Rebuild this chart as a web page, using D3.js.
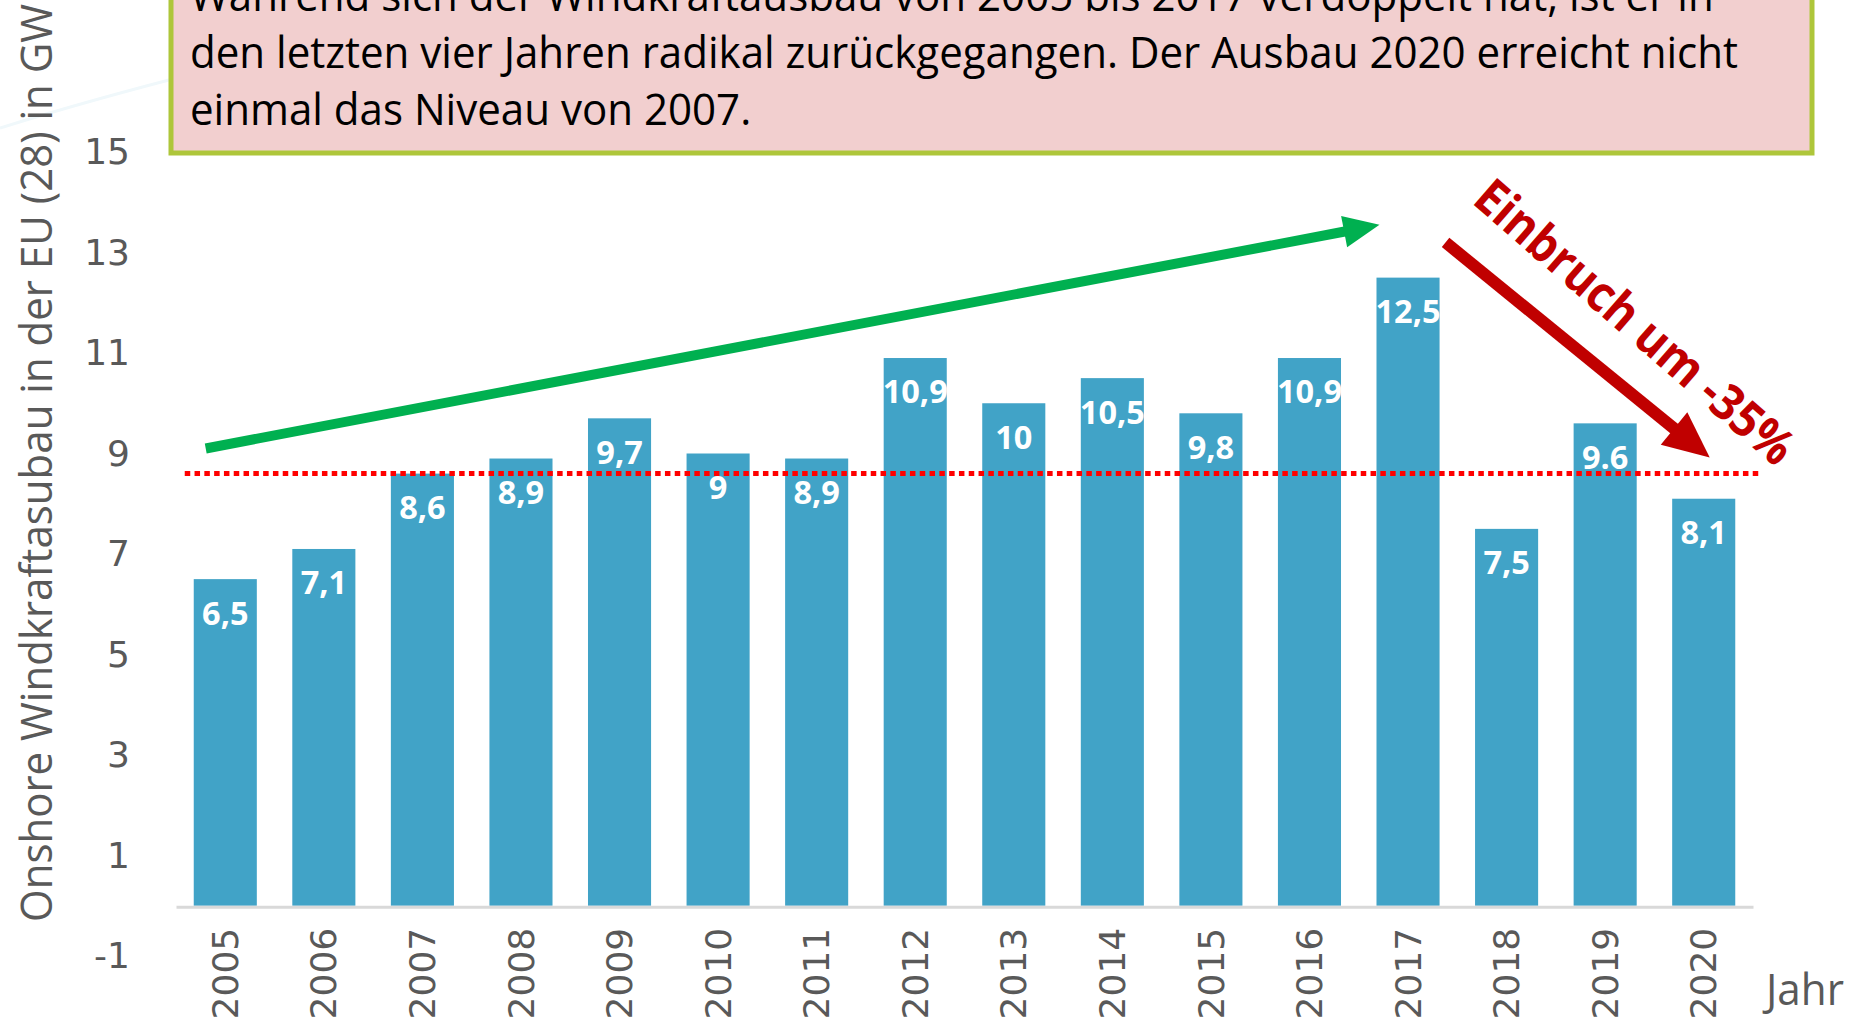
<!DOCTYPE html>
<html>
<head>
<meta charset="utf-8">
<script src="https://cdn.jsdelivr.net/npm/d3@7"></script>
<style>
  body { margin: 0; background: #fff; }
  svg { display: block; }
</style>
</head>
<body>
<div id="chart"></div>
<script>
// data
const years = ["2005","2006","2007","2008","2009","2010","2011","2012","2013","2014","2015","2016","2017","2018","2019","2020"];
const values = [6.5, 7.1, 8.6, 8.9, 9.7, 9.0, 8.9, 10.9, 10.0, 10.5, 9.8, 10.9, 12.5, 7.5, 9.6, 8.1];
const valueLabels = ["6,5","7,1","8,6","8,9","9,7","9","8,9","10,9","10","10,5","9,8","10,9","12,5","7,5","9.6","8,1"];
const yTicks = [-1, 1, 3, 5, 7, 9, 11, 13, 15];
const level2007 = 8.6;
const boxLines = [
  "Während sich der Windkraftausbau von 2005 bis 2017 verdoppelt hat, ist er in",
  "den letzten vier Jahren radikal zurückgegangen. Der Ausbau 2020 erreicht nicht",
  "einmal das Niveau von 2007."
];
const yTitle = "Onshore Windkraftasubau in der EU (28) in GW";
const xTitle = "Jahr";
const dropLabel = "Einbruch um -35%";

const width = 1858, height = 1018;
const svg = d3.select("#chart").append("svg")
    .attr("width", width)
    .attr("height", height);

let x = d3.scaleBand()
    .domain(years)
    .range([176, 1753])
    .paddingInner(0.36)
    .paddingOuter(0.18);

let y = d3.scaleLinear()
    .domain([-1, 15])
    .range([956, 152]);

// faint background sheen top left
svg.append("path")
    .attr("d", "M0,128 Q90,100 200,72")
    .attr("fill", "none")
    .attr("stroke", "#f0f8fb")
    .attr("stroke-width", 3);

// text box
svg.append("rect")
    .attr("x", 171).attr("y", -60)
    .attr("width", 1641).attr("height", 213)
    .attr("fill", "#f2cfcf")
    .attr("stroke", "#aec63a")
    .attr("stroke-width", 5);

let boxText = svg.append("g").selectAll("text")
    .data(boxLines)
    .enter()
    .append("text")
        .attr("x", 190)
        .attr("y", (d, i) => 10.5 + i * 57)
        .style("font-family", "Open Sans")
        .style("font-size", "43px")
        .style("fill", "#000")
        .text(d => d);
// squeeze to the narrow look of the original font
let natural = boxText.nodes()[1].getComputedTextLength();
let squeeze = 1548 / natural;
boxText.each(function() {
    let w = this.getComputedTextLength();
    d3.select(this).attr("textLength", w * squeeze).attr("lengthAdjust", "spacingAndGlyphs");
});

// y axis
let yAxis = svg.append("g")
    .attr("transform", "translate(130,0)")
    .call(d3.axisLeft(y).tickValues(yTicks).tickSize(0).tickPadding(0).tickFormat(d => String(d)));
yAxis.select(".domain").remove();
yAxis.selectAll("text")
    .style("font-family", "DejaVu Sans")
    .style("font-size", "36px")
    .style("fill", "#595959");

// bars
svg.append("g")
    .selectAll("rect")
    .data(values)
    .enter()
    .append("rect")
        .attr("x", (d, i) => x(years[i]))
        .attr("y", d => y(d))
        .attr("width", x.bandwidth())
        .attr("height", d => y(0) - y(d))
        .style("fill", "#41a3c7");

// x axis
let xAxis = svg.append("g")
    .attr("transform", `translate(0,${y(0) + 1})`)
    .call(d3.axisBottom(x).tickSize(0).tickSizeOuter(0));
xAxis.select(".domain")
    .style("stroke", "#d9d9d9")
    .style("stroke-width", "3px");
xAxis.selectAll("text")
    .attr("transform", "rotate(-90)")
    .attr("text-anchor", "end")
    .attr("x", -21)
    .attr("y", 0)
    .attr("dy", "0.35em")
    .style("font-family", "DejaVu Sans")
    .style("font-size", "36px")
    .style("fill", "#595959");

// value labels
svg.append("g")
    .selectAll("text")
    .data(values)
    .enter()
    .append("text")
        .attr("x", (d, i) => x(years[i]) + x.bandwidth() / 2)
        .attr("y", d => y(d) + 34)
        .attr("dy", "0.35em")
        .attr("text-anchor", "middle")
        .style("font-family", "Open Sans")
        .style("font-weight", "bold")
        .style("font-size", "32.5px")
        .style("fill", "#fff")
        .text((d, i) => valueLabels[i]);

// dotted level line (2007)
svg.append("line")
    .attr("x1", x("2005") - 9)
    .attr("x2", x("2020") + x.bandwidth() + 24)
    .attr("y1", y(level2007))
    .attr("y2", y(level2007))
    .style("stroke", "#ff0000")
    .style("stroke-width", 5)
    .style("stroke-dasharray", "5.5,4.3");

function drawArrow(x1, y1, x2, y2, colour, w, headLen, headW) {
    let dx = x2 - x1, dy = y2 - y1;
    let len = Math.sqrt(dx * dx + dy * dy);
    let ux = dx / len, uy = dy / len;
    let bx = x2 - ux * headLen, by = y2 - uy * headLen;
    svg.append("line")
        .attr("x1", x1).attr("y1", y1)
        .attr("x2", bx + ux * 2).attr("y2", by + uy * 2)
        .style("stroke", colour)
        .style("stroke-width", w);
    svg.append("path")
        .attr("d", `M${x2},${y2} L${bx - uy * headW / 2},${by + ux * headW / 2} L${bx + uy * headW / 2},${by - ux * headW / 2} Z`)
        .style("fill", colour);
}

// growth arrow 2005 -> 2017
drawArrow(x("2005") + 12, y(9.1), x("2017") + 3, y(13.55), "#00b050", 10, 36, 32);
// drop arrow 2017 -> 2020
drawArrow(x("2017") + x.bandwidth() + 6, y(13.2), x("2020") + x.bandwidth() / 2 + 6, y(8.92), "#c00000", 12, 46, 42);

svg.append("text")
    .attr("transform", "translate(1635,322) rotate(41)")
    .attr("text-anchor", "middle")
    .attr("dy", "0.35em")
    .attr("textLength", 405)
    .attr("lengthAdjust", "spacingAndGlyphs")
    .style("font-family", "Open Sans")
    .style("font-weight", "bold")
    .style("font-size", "50px")
    .style("fill", "#c00000")
    .text(dropLabel);

// axis titles
svg.append("text")
    .attr("transform", "translate(52,922) rotate(-90)")
    .attr("textLength", 918)
    .attr("lengthAdjust", "spacingAndGlyphs")
    .style("font-family", "Open Sans")
    .style("font-size", "43px")
    .style("fill", "#595959")
    .text(yTitle);

svg.append("text")
    .attr("x", 1766)
    .attr("y", 1005)
    .attr("textLength", 78)
    .attr("lengthAdjust", "spacingAndGlyphs")
    .style("font-family", "Open Sans")
    .style("font-size", "43px")
    .style("fill", "#595959")
    .text(xTitle);
</script>
</body>
</html>
